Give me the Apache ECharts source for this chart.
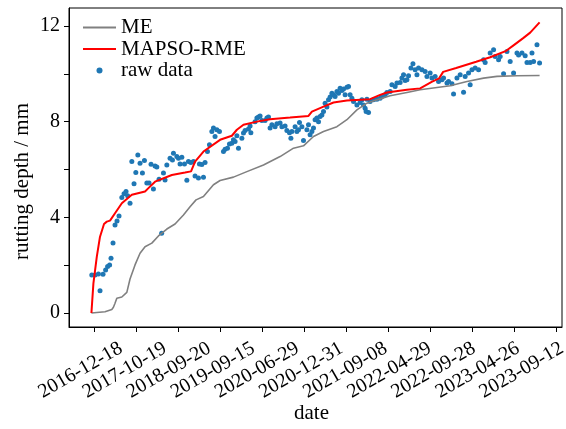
<!DOCTYPE html>
<html lang="en">
<head>
    <meta charset="UTF-8"/>
    <title>rutting depth</title>
    <script src="https://cdn.jsdelivr.net/npm/echarts@6/dist/echarts.min.js"></script>
    <style>
        html, body {margin: 0; padding: 0; background: #fff;}
        #chart {width: 566px; height: 429px;}
    </style>
</head>
<body>
<div id="chart"></div>
<script type="text/javascript">
    // x = measurement position, y = rutting depth (mm)
    var dateLabels = ['2016-12-18', '2017-10-19', '2018-09-20', '2019-09-15', '2020-06-29', '2020-12-31',
        '2021-09-08', '2022-04-29', '2022-09-28', '2023-04-26', '2023-09-12'];
    // where the date labels and the ticks sit on the position axis
    var labelPos = [14.8, 36.85, 58.9, 80.95, 103, 125.05, 147.1, 169.15, 191.2, 213.25, 235.2];
    var tickPos = [1.3, 22.3, 43.3, 64.3, 85.3, 106.3, 127.3, 148.3, 169.3, 190.3, 211.3, 232.3];
    var yTicks = [0, 2, 4, 6, 8, 10, 12];
    var yLabels = [0, 4, 8, 12];

    // raw measurements
    var rawX = [0.2, 1.8, 3.5, 4.3, 5.8, 7.1, 8.1, 9.1, 9.8, 10.8, 11.8, 12.8, 13.8, 15.2, 16.3, 17.3, 18.1, 19.3,
        20.2, 21.3, 22.2, 23.2, 24.3, 25.5, 26.5, 27.7, 28.8, 29.8, 31.0, 31.8, 32.7, 33.8, 35.1, 36.0, 36.8, 37.7,
        39.3, 40.5, 41.0, 42.7, 43.5, 44.3, 45.2, 46.5, 47.7, 48.5, 49.7, 51.0, 51.8, 53.5, 54.0, 55.2, 56.0, 56.8,
        58.0, 59.0, 60.2, 61.0, 61.8, 62.7, 64.0, 66.0, 66.8, 68.0, 69.0, 70.2, 71.0, 71.8, 72.7, 73.5, 75.2, 76.0,
        76.8, 78.5, 79.3, 79.7, 81.8, 82.7, 83.5, 84.3, 85.2, 86.8, 87.7, 88.5, 89.3, 90.2, 91.8, 92.7, 94.3, 95.2,
        96.8, 97.7, 99.0, 99.7, 100.2, 101.8, 102.7, 103.5, 104.0, 105.2, 106.0, 107.7, 108.5, 109.3, 110.2, 111.0,
        111.8, 112.7, 113.5, 114.3, 115.2, 116.0, 116.8, 117.7, 118.5, 119.3, 120.2, 121.0, 121.8, 122.7, 123.5,
        124.3, 125.2, 126.0, 126.8, 127.7, 128.5, 129.3, 130.2, 131.0, 132.7, 134.3, 135.2, 136.0, 136.8, 137.3,
        137.7, 138.5, 139.3, 141.0, 142.7, 144.3, 145.2, 146.8, 147.7, 149.3, 150.2, 151.8, 152.7, 154.3, 155.2,
        156.0, 156.8, 157.7, 158.5, 159.7, 160.7, 161.8, 162.7, 163.5, 165.2, 166.8, 167.7, 169.3, 170.2, 171.8,
        173.5, 175.2, 176.0, 177.7, 178.5, 180.2, 181.0, 182.7, 184.3, 186.0, 186.8, 188.5, 189.3, 190.2, 191.8,
        193.5, 196.0, 196.8, 199.3, 201.0, 201.8, 203.5, 204.3, 206.0, 207.7, 209.3, 211.0, 212.7, 213.5, 215.2,
        216.8, 217.7, 219.3, 220.2, 221.0, 222.7, 224.0];
    var rawDepth = [1.59, 1.59, 1.63, 0.93, 1.62, 1.80, 1.94, 2.01, 2.29, 2.93, 3.68, 3.85, 4.06, 4.83, 4.98, 5.08, 4.90, 4.59,
        6.33, 5.40, 5.87, 6.61, 6.26, 5.85, 6.37, 5.43, 5.43, 6.22, 5.18, 6.15, 6.10, 5.59, 3.33, 5.85, 5.56, 6.19,
        6.47, 6.40, 6.68, 6.54, 6.47, 6.23, 6.51, 6.23, 5.55, 6.33, 6.29, 6.33, 5.73, 5.64, 6.23, 6.21, 5.68, 6.29,
        6.75, 7.03, 7.59, 7.73, 7.38, 7.66, 7.59, 6.75, 6.85, 6.89, 7.07, 7.10, 7.24, 7.17, 7.41, 6.89, 7.31, 7.52,
        7.63, 7.69, 7.82, 7.54, 8.00, 8.15, 8.19, 8.24, 8.05, 8.05, 8.15, 8.19, 7.73, 7.87, 7.79, 7.91, 7.94, 7.79,
        7.82, 7.63, 7.54, 7.31, 7.59, 7.79, 7.59, 7.66, 7.96, 7.79, 7.21, 7.66, 7.87, 7.45, 7.59, 7.73,
        8.08, 8.15, 8.00, 8.21, 8.28, 8.42, 8.77, 8.61, 8.91, 9.03, 9.19, 9.12, 9.05, 9.26, 9.19,
        9.40, 9.30, 9.36, 9.12, 9.44, 9.47, 9.12, 8.98, 8.84, 8.70, 8.80, 8.91, 8.70, 8.56, 8.42,
        8.94, 8.38, 8.84, 8.91, 8.94, 8.98, 9.05, 9.12, 9.22, 9.26, 9.54, 9.47, 9.61, 9.64, 9.82,
        9.96, 9.72, 9.75, 9.92, 10.24, 10.42, 10.17, 9.96, 10.24, 10.17, 10.10, 9.89, 10.03, 9.82, 9.89,
        9.68, 9.75, 9.82, 9.61, 9.68, 9.58, 9.16, 9.82, 9.96, 9.23, 9.89, 10.03, 9.54, 10.17, 10.24,
        10.17, 10.59, 10.47, 10.87, 11.00, 10.72, 10.59, 10.72, 10.00, 10.93, 10.51, 10.03, 10.87, 10.79, 10.87,
        10.75, 10.47, 10.47, 10.87, 10.51, 11.21, 10.45];

    // ME model
    var meX = [0, 6.8, 10.2, 11.0, 11.8, 12.7, 15.2, 17.7, 19.3, 21.8, 24.3, 26.8, 30.2, 33.5, 37.7, 41.8, 46.0, 49.3,
        52.3, 56.0, 61.0, 64.3, 71.0, 77.7, 86.0, 94.3, 101.0, 106.0, 111.0, 116.0, 122.7, 127.7, 132.7, 137.7,
        142.7, 149.3, 157.7, 164.3, 179.3, 187.7, 196.0, 202.7, 212.7, 224.0];
    var meDepth = [0, 0.05, 0.15, 0.24, 0.41, 0.62, 0.67, 0.86, 1.42, 2.01, 2.50, 2.77, 2.92, 3.22, 3.51, 3.72, 4.10, 4.44,
        4.73, 4.87, 5.36, 5.54, 5.68, 5.91, 6.19, 6.54, 6.89, 6.99, 7.38, 7.59, 7.79, 8.08, 8.49, 8.77,
        8.91, 9.08, 9.22, 9.33, 9.50, 9.68, 9.82, 9.89, 9.92, 9.93];

    // MAPSO-RME model
    var rmeX = [0, 1.0, 2.7, 4.3, 6.3, 7.7, 9.3, 11.8, 15.2, 20.2, 26.8, 28.5, 31.8, 40.2, 46.8, 49.8, 51.8, 56.0,
        64.3, 70.2, 72.7, 76.0, 82.7, 89.3, 99.3, 108.5, 110.2, 116.0, 121.0, 127.7, 139.3, 144.3, 147.7, 157.7,
        164.3, 170.3, 173.8, 175.8, 182.3, 192.3, 199.3, 207.3, 211.3, 215.8, 219.3, 224.0];
    var rmeDepth = [0, 1.24, 2.36, 3.19, 3.72, 3.82, 3.86, 4.17, 4.59, 4.94, 5.08, 5.22, 5.49, 5.77, 5.87, 5.92, 6.33, 6.75,
        7.24, 7.41, 7.66, 7.87, 8.00, 8.10, 8.17, 8.24, 8.42, 8.63, 8.80, 8.88, 8.94, 9.12, 9.22, 9.33,
        9.39, 9.67, 9.81, 10.08, 10.24, 10.50, 10.69, 10.96, 11.21, 11.49, 11.72, 12.15];

    function pairs(xs, ys) {
        var out = [];
        for (var i = 0; i < xs.length; i++) {
            out.push([xs[i], ys[i]]);
        }
        return out;
    }

    var font = 'Liberation Serif';
    var myChart = echarts.init(document.getElementById('chart'));
    var option = {
        animation: false,
        textStyle: {fontFamily: font, color: '#000'},
        grid: {
            left: 69, right: 4, top: 8, bottom: 102,
            containLabel: false,
            outerBoundsMode: 'none',
            show: true, borderColor: '#000', borderWidth: 1
        },
        // y title sits a little below the middle of the axis, as in the source figure
        graphic: [{
            type: 'text',
            left: 12, top: 103,
            rotation: Math.PI / 2,
            style: {text: 'rutting depth / mm', fontFamily: font, fontSize: 21, fill: '#000'}
        }],
        legend: {
            orient: 'vertical',
            left: 82, top: 17,
            padding: 0,
            itemGap: 0.5,
            itemWidth: 33,
            itemHeight: 6,
            textStyle: {fontFamily: font, fontSize: 21, color: '#000', lineHeight: 20},
            data: [
                {name: 'ME', itemStyle: {opacity: 0}},
                {name: 'MAPSO-RME', itemStyle: {opacity: 0}},
                {name: 'raw data', icon: 'circle'}
            ]
        },
        xAxis: {
            type: 'value',
            min: -11.2,
            max: 235.2,
            name: 'date',
            nameLocation: 'middle',
            nameGap: 76,
            nameMoveOverlap: false,
            nameTextStyle: {fontFamily: font, fontSize: 21, color: '#000', padding: [0, 8, 0, 0]},
            splitLine: {show: false},
            axisLine: {show: true, onZero: false, lineStyle: {color: '#000', width: 1}},
            axisTick: {show: true, length: 5, inside: false, customValues: tickPos, lineStyle: {color: '#000'}},
            axisLabel: {
                customValues: labelPos,
                rotate: 30,
                margin: 20,
                fontFamily: font,
                fontSize: 20,
                color: '#000',
                formatter: function (value) {
                    var best = 0;
                    for (var i = 1; i < labelPos.length; i++) {
                        if (Math.abs(labelPos[i] - value) < Math.abs(labelPos[best] - value)) best = i;
                    }
                    return dateLabels[best];
                }
            }
        },
        yAxis: {
            type: 'value',
            min: -0.585,
            max: 12.75,
            splitLine: {show: false},
            axisLine: {show: true, onZero: false, lineStyle: {color: '#000', width: 1}},
            axisTick: {show: true, length: 5, inside: false, customValues: yTicks, lineStyle: {color: '#000'}},
            axisLabel: {
                customValues: yLabels,
                margin: 9,
                fontFamily: font,
                fontSize: 20,
                color: '#000'
            }
        },
        series: [
            {
                name: 'raw data',
                type: 'scatter',
                data: pairs(rawX, rawDepth),
                symbolSize: 5,
                itemStyle: {color: '#1f77b4', opacity: 1},
                z: 2
            },
            {
                name: 'ME',
                type: 'line',
                data: pairs(meX, meDepth),
                showSymbol: false,
                symbol: 'none',
                lineStyle: {color: '#808080', width: 1.6},
                itemStyle: {color: '#808080'},
                z: 3
            },
            {
                name: 'MAPSO-RME',
                type: 'line',
                data: pairs(rmeX, rmeDepth),
                showSymbol: false,
                symbol: 'none',
                lineStyle: {color: '#ff0000', width: 2},
                itemStyle: {color: '#ff0000'},
                z: 4
            }
        ]
    };
    myChart.setOption(option);
</script>
</body>
</html>
